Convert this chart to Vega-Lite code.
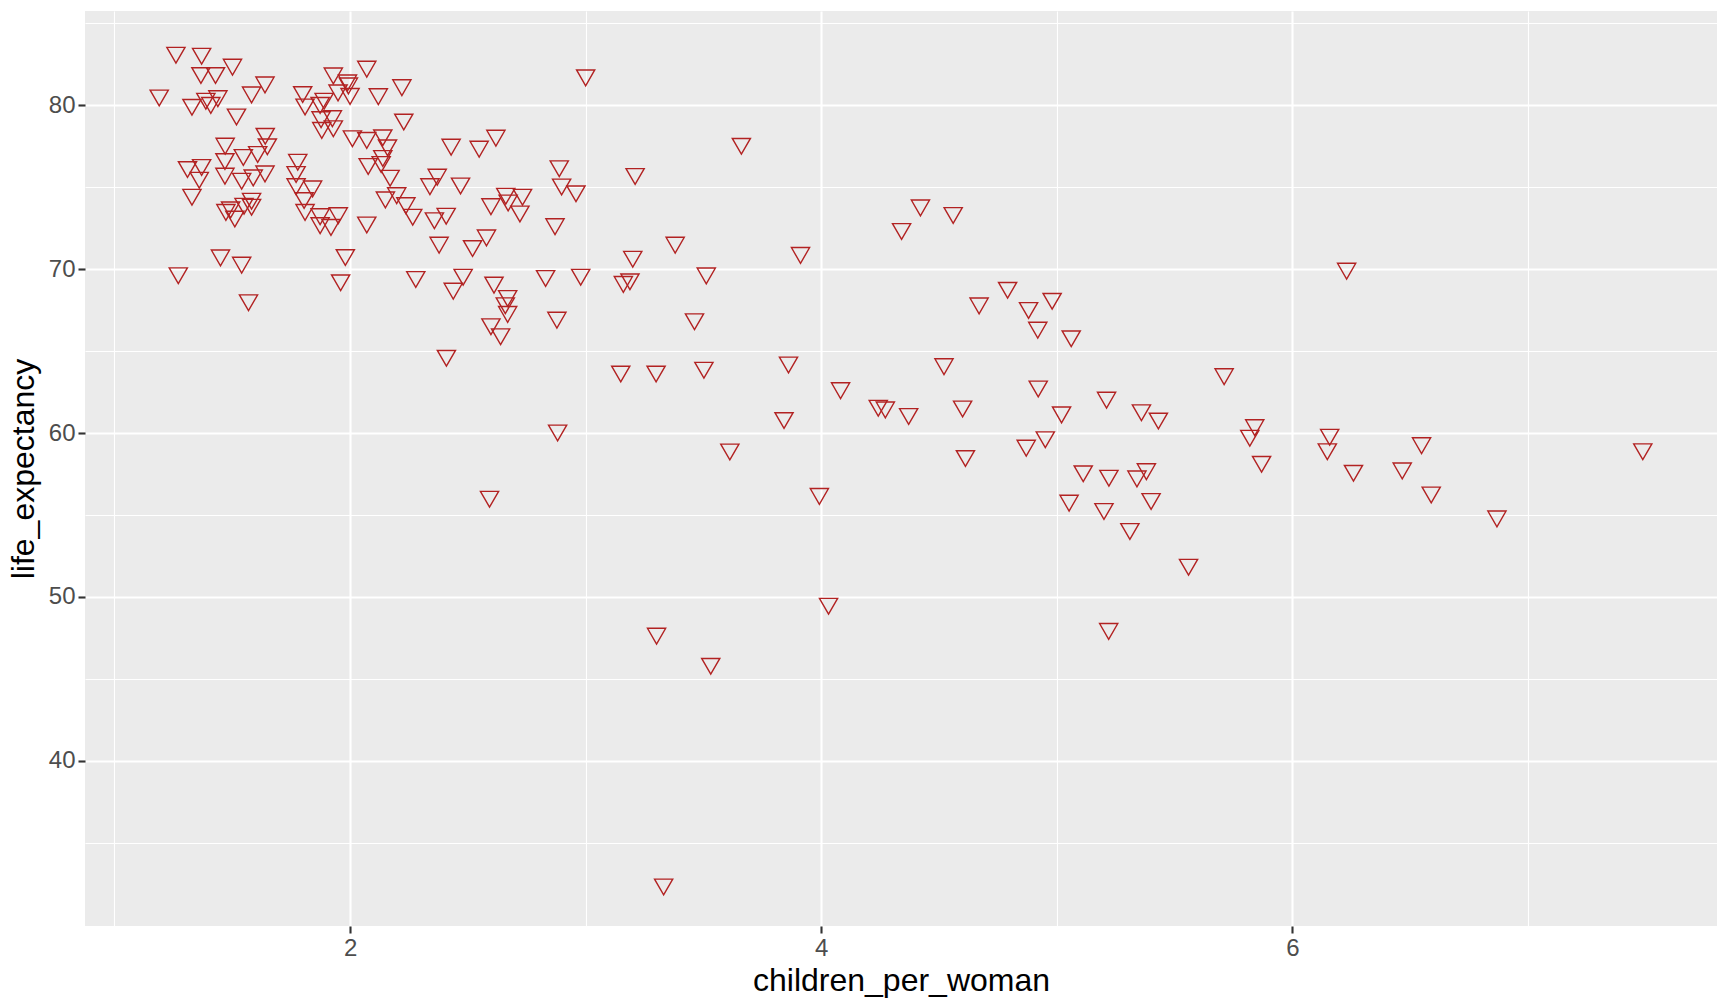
{
  "$schema": "https://vega.github.io/schema/vega-lite/v6.json",
  "width": 1632,
  "height": 915,
  "autosize": "none",
  "padding": {"left": 85, "top": 11, "right": 11, "bottom": 82},
  "background": "white",
  "config": {
    "view": {"fill": "#EBEBEB", "stroke": null},
    "axis": {
      "domain": false,
      "gridColor": "white",
      "tickColor": "#333333",
      "tickWidth": 2.1,
      "tickSize": 7,
      "labelFont": "Liberation Sans",
      "labelFontSize": 24,
      "labelColor": "#4D4D4D",
      "labelOverlap": false,
      "labelFlush": false,
      "titleFont": "Liberation Sans",
      "titleFontSize": 32,
      "titleFontWeight": "normal",
      "titleColor": "black"
    }
  },
  "data": {
    "values": [
      {"children_per_woman": 1.261, "life_expectancy": 83.22},
      {"children_per_woman": 1.370, "life_expectancy": 83.16},
      {"children_per_woman": 1.501, "life_expectancy": 82.49},
      {"children_per_woman": 1.367, "life_expectancy": 81.98},
      {"children_per_woman": 1.429, "life_expectancy": 81.98},
      {"children_per_woman": 1.639, "life_expectancy": 81.41},
      {"children_per_woman": 1.190, "life_expectancy": 80.61},
      {"children_per_woman": 1.582, "life_expectancy": 80.80},
      {"children_per_woman": 1.329, "life_expectancy": 80.04},
      {"children_per_woman": 1.388, "life_expectancy": 80.41},
      {"children_per_woman": 1.409, "life_expectancy": 80.16},
      {"children_per_woman": 1.439, "life_expectancy": 80.57},
      {"children_per_woman": 1.518, "life_expectancy": 79.45},
      {"children_per_woman": 1.799, "life_expectancy": 80.82},
      {"children_per_woman": 1.809, "life_expectancy": 80.06},
      {"children_per_woman": 1.929, "life_expectancy": 81.96},
      {"children_per_woman": 1.989, "life_expectancy": 81.53},
      {"children_per_woman": 1.993, "life_expectancy": 81.35},
      {"children_per_woman": 2.071, "life_expectancy": 82.37},
      {"children_per_woman": 1.949, "life_expectancy": 80.92},
      {"children_per_woman": 2.000, "life_expectancy": 80.71},
      {"children_per_woman": 1.890, "life_expectancy": 80.41},
      {"children_per_woman": 1.873, "life_expectancy": 80.16},
      {"children_per_woman": 2.120, "life_expectancy": 80.69},
      {"children_per_woman": 1.877, "life_expectancy": 79.29},
      {"children_per_woman": 1.925, "life_expectancy": 79.35},
      {"children_per_woman": 1.880, "life_expectancy": 78.63},
      {"children_per_woman": 1.929, "life_expectancy": 78.73},
      {"children_per_woman": 2.010, "life_expectancy": 78.12},
      {"children_per_woman": 2.071, "life_expectancy": 78.02},
      {"children_per_woman": 2.139, "life_expectancy": 78.18},
      {"children_per_woman": 2.159, "life_expectancy": 77.57},
      {"children_per_woman": 2.139, "life_expectancy": 76.92},
      {"children_per_woman": 2.132, "life_expectancy": 76.55},
      {"children_per_woman": 2.077, "life_expectancy": 76.43},
      {"children_per_woman": 2.170, "life_expectancy": 75.71},
      {"children_per_woman": 2.150, "life_expectancy": 74.39},
      {"children_per_woman": 2.071, "life_expectancy": 72.86},
      {"children_per_woman": 1.470, "life_expectancy": 77.67},
      {"children_per_woman": 1.640, "life_expectancy": 78.27},
      {"children_per_woman": 1.649, "life_expectancy": 77.63},
      {"children_per_woman": 1.469, "life_expectancy": 76.73},
      {"children_per_woman": 1.547, "life_expectancy": 76.98},
      {"children_per_woman": 1.608, "life_expectancy": 77.16},
      {"children_per_woman": 1.310, "life_expectancy": 76.24},
      {"children_per_woman": 1.370, "life_expectancy": 76.37},
      {"children_per_woman": 1.360, "life_expectancy": 75.59},
      {"children_per_woman": 1.469, "life_expectancy": 75.84},
      {"children_per_woman": 1.540, "life_expectancy": 75.53},
      {"children_per_woman": 1.589, "life_expectancy": 75.73},
      {"children_per_woman": 1.639, "life_expectancy": 75.98},
      {"children_per_woman": 1.329, "life_expectancy": 74.55},
      {"children_per_woman": 1.473, "life_expectancy": 73.63},
      {"children_per_woman": 1.493, "life_expectancy": 73.78},
      {"children_per_woman": 1.511, "life_expectancy": 73.22},
      {"children_per_woman": 1.550, "life_expectancy": 74.00},
      {"children_per_woman": 1.582, "life_expectancy": 74.31},
      {"children_per_woman": 1.582, "life_expectancy": 73.94},
      {"children_per_woman": 1.778, "life_expectancy": 76.69},
      {"children_per_woman": 1.771, "life_expectancy": 75.94},
      {"children_per_woman": 1.771, "life_expectancy": 75.20},
      {"children_per_woman": 1.841, "life_expectancy": 75.06},
      {"children_per_woman": 1.805, "life_expectancy": 74.35},
      {"children_per_woman": 1.809, "life_expectancy": 73.63},
      {"children_per_woman": 1.873, "life_expectancy": 73.37},
      {"children_per_woman": 1.950, "life_expectancy": 73.43},
      {"children_per_woman": 1.873, "life_expectancy": 72.82},
      {"children_per_woman": 1.919, "life_expectancy": 72.71},
      {"children_per_woman": 3.000, "life_expectancy": 81.84},
      {"children_per_woman": 2.220, "life_expectancy": 81.24},
      {"children_per_woman": 2.228, "life_expectancy": 79.14},
      {"children_per_woman": 2.429, "life_expectancy": 77.61},
      {"children_per_woman": 2.548, "life_expectancy": 77.49},
      {"children_per_woman": 2.619, "life_expectancy": 78.16},
      {"children_per_woman": 2.888, "life_expectancy": 76.29},
      {"children_per_woman": 3.210, "life_expectancy": 75.82},
      {"children_per_woman": 2.370, "life_expectancy": 75.78},
      {"children_per_woman": 2.339, "life_expectancy": 75.20},
      {"children_per_woman": 2.469, "life_expectancy": 75.24},
      {"children_per_woman": 2.898, "life_expectancy": 75.18},
      {"children_per_woman": 2.959, "life_expectancy": 74.76},
      {"children_per_woman": 2.198, "life_expectancy": 74.65},
      {"children_per_woman": 2.237, "life_expectancy": 74.04},
      {"children_per_woman": 2.266, "life_expectancy": 73.33},
      {"children_per_woman": 2.358, "life_expectancy": 73.12},
      {"children_per_woman": 2.408, "life_expectancy": 73.39},
      {"children_per_woman": 2.598, "life_expectancy": 73.98},
      {"children_per_woman": 2.661, "life_expectancy": 74.61},
      {"children_per_woman": 2.671, "life_expectancy": 74.20},
      {"children_per_woman": 2.732, "life_expectancy": 74.55},
      {"children_per_woman": 2.721, "life_expectancy": 73.53},
      {"children_per_woman": 2.870, "life_expectancy": 72.76},
      {"children_per_woman": 2.579, "life_expectancy": 72.07},
      {"children_per_woman": 2.378, "life_expectancy": 71.63},
      {"children_per_woman": 2.520, "life_expectancy": 71.42},
      {"children_per_woman": 3.380, "life_expectancy": 71.63},
      {"children_per_woman": 3.200, "life_expectancy": 70.77},
      {"children_per_woman": 2.279, "life_expectancy": 69.53},
      {"children_per_woman": 2.480, "life_expectancy": 69.67},
      {"children_per_woman": 2.438, "life_expectancy": 68.82},
      {"children_per_woman": 2.611, "life_expectancy": 69.19},
      {"children_per_woman": 2.669, "life_expectancy": 68.37},
      {"children_per_woman": 2.659, "life_expectancy": 67.93},
      {"children_per_woman": 2.669, "life_expectancy": 67.40},
      {"children_per_woman": 2.598, "life_expectancy": 66.65},
      {"children_per_woman": 2.639, "life_expectancy": 66.04},
      {"children_per_woman": 2.830, "life_expectancy": 69.59},
      {"children_per_woman": 2.979, "life_expectancy": 69.67},
      {"children_per_woman": 2.878, "life_expectancy": 67.05},
      {"children_per_woman": 3.160, "life_expectancy": 69.23},
      {"children_per_woman": 3.188, "life_expectancy": 69.39},
      {"children_per_woman": 2.409, "life_expectancy": 64.72},
      {"children_per_woman": 3.149, "life_expectancy": 63.76},
      {"children_per_woman": 3.299, "life_expectancy": 63.76},
      {"children_per_woman": 1.450, "life_expectancy": 70.85},
      {"children_per_woman": 1.540, "life_expectancy": 70.41},
      {"children_per_woman": 1.271, "life_expectancy": 69.76},
      {"children_per_woman": 1.569, "life_expectancy": 68.11},
      {"children_per_woman": 1.980, "life_expectancy": 70.87},
      {"children_per_woman": 1.960, "life_expectancy": 69.33},
      {"children_per_woman": 2.881, "life_expectancy": 60.16},
      {"children_per_woman": 2.592, "life_expectancy": 56.12},
      {"children_per_woman": 3.301, "life_expectancy": 47.76},
      {"children_per_woman": 3.612, "life_expectancy": 59.00},
      {"children_per_woman": 3.992, "life_expectancy": 56.29},
      {"children_per_woman": 4.612, "life_expectancy": 58.60},
      {"children_per_woman": 5.112, "life_expectancy": 57.67},
      {"children_per_woman": 5.052, "life_expectancy": 55.88},
      {"children_per_woman": 4.031, "life_expectancy": 49.59},
      {"children_per_woman": 3.531, "life_expectancy": 45.92},
      {"children_per_woman": 3.331, "life_expectancy": 32.45},
      {"children_per_woman": 3.661, "life_expectancy": 77.66},
      {"children_per_woman": 4.421, "life_expectancy": 73.90},
      {"children_per_woman": 4.560, "life_expectancy": 73.44},
      {"children_per_woman": 4.341, "life_expectancy": 72.46},
      {"children_per_woman": 3.912, "life_expectancy": 71.00},
      {"children_per_woman": 3.512, "life_expectancy": 69.75},
      {"children_per_woman": 3.462, "life_expectancy": 66.95},
      {"children_per_woman": 3.502, "life_expectancy": 63.99},
      {"children_per_woman": 3.861, "life_expectancy": 64.31},
      {"children_per_woman": 4.082, "life_expectancy": 62.75},
      {"children_per_woman": 4.242, "life_expectancy": 61.67},
      {"children_per_woman": 4.272, "life_expectancy": 61.57},
      {"children_per_woman": 4.371, "life_expectancy": 61.17},
      {"children_per_woman": 3.842, "life_expectancy": 60.92},
      {"children_per_woman": 4.521, "life_expectancy": 64.21},
      {"children_per_woman": 4.600, "life_expectancy": 61.63},
      {"children_per_woman": 4.670, "life_expectancy": 67.92},
      {"children_per_woman": 4.791, "life_expectancy": 68.87},
      {"children_per_woman": 4.880, "life_expectancy": 67.64},
      {"children_per_woman": 4.980, "life_expectancy": 68.20},
      {"children_per_woman": 4.919, "life_expectancy": 66.44},
      {"children_per_woman": 5.061, "life_expectancy": 65.91},
      {"children_per_woman": 4.921, "life_expectancy": 62.85},
      {"children_per_woman": 5.020, "life_expectancy": 61.27},
      {"children_per_woman": 4.870, "life_expectancy": 59.24},
      {"children_per_woman": 4.951, "life_expectancy": 59.75},
      {"children_per_woman": 6.230, "life_expectancy": 70.04},
      {"children_per_woman": 5.710, "life_expectancy": 63.60},
      {"children_per_woman": 5.211, "life_expectancy": 62.17},
      {"children_per_woman": 5.359, "life_expectancy": 61.40},
      {"children_per_woman": 5.431, "life_expectancy": 60.89},
      {"children_per_woman": 5.840, "life_expectancy": 60.49},
      {"children_per_woman": 5.819, "life_expectancy": 59.84},
      {"children_per_woman": 6.158, "life_expectancy": 59.90},
      {"children_per_woman": 6.148, "life_expectancy": 59.02},
      {"children_per_woman": 6.548, "life_expectancy": 59.39},
      {"children_per_woman": 7.487, "life_expectancy": 59.02},
      {"children_per_woman": 5.869, "life_expectancy": 58.25},
      {"children_per_woman": 5.221, "life_expectancy": 57.40},
      {"children_per_woman": 5.340, "life_expectancy": 57.36},
      {"children_per_woman": 5.380, "life_expectancy": 57.80},
      {"children_per_woman": 6.259, "life_expectancy": 57.70},
      {"children_per_woman": 6.466, "life_expectancy": 57.85},
      {"children_per_woman": 5.400, "life_expectancy": 55.98},
      {"children_per_woman": 5.200, "life_expectancy": 55.37},
      {"children_per_woman": 6.589, "life_expectancy": 56.38},
      {"children_per_woman": 5.310, "life_expectancy": 54.15},
      {"children_per_woman": 6.868, "life_expectancy": 54.92},
      {"children_per_woman": 5.559, "life_expectancy": 51.97},
      {"children_per_woman": 5.220, "life_expectancy": 48.05}
    ]
  },
  "mark": {
    "type": "point",
    "shape": "M-1,-0.577L1,-0.577L0,1.155Z",
    "filled": false,
    "stroke": "#B22222",
    "strokeWidth": 1.4,
    "size": 331,
    "opacity": 1
  },
  "encoding": {
    "x": {
      "field": "children_per_woman",
      "type": "quantitative",
      "scale": {"domain": [0.875, 7.802], "nice": false, "zero": false},
      "axis": {
        "title": "children_per_woman",
        "values": [1, 2, 3, 4, 5, 6, 7],
        "labelExpr": "datum.value % 2 === 0 ? datum.label : ''",
        "gridWidth": {"condition": {"test": "datum.value % 2 === 0", "value": 2.1}, "value": 1.1},
        "tickOpacity": {"condition": {"test": "datum.value % 2 === 0", "value": 1}, "value": 0},
        "labelPadding": 3,
        "titlePadding": 5
      }
    },
    "y": {
      "field": "life_expectancy",
      "type": "quantitative",
      "scale": {"domain": [29.91, 85.76], "nice": false, "zero": false},
      "axis": {
        "title": "life_expectancy",
        "values": [35, 40, 45, 50, 55, 60, 65, 70, 75, 80, 85],
        "labelExpr": "datum.value % 10 === 0 ? datum.label : ''",
        "gridWidth": {"condition": {"test": "datum.value % 10 === 0", "value": 2.1}, "value": 1.1},
        "tickOpacity": {"condition": {"test": "datum.value % 10 === 0", "value": 1}, "value": 0},
        "labelPadding": 3,
        "titlePadding": 8
      }
    }
  }
}
